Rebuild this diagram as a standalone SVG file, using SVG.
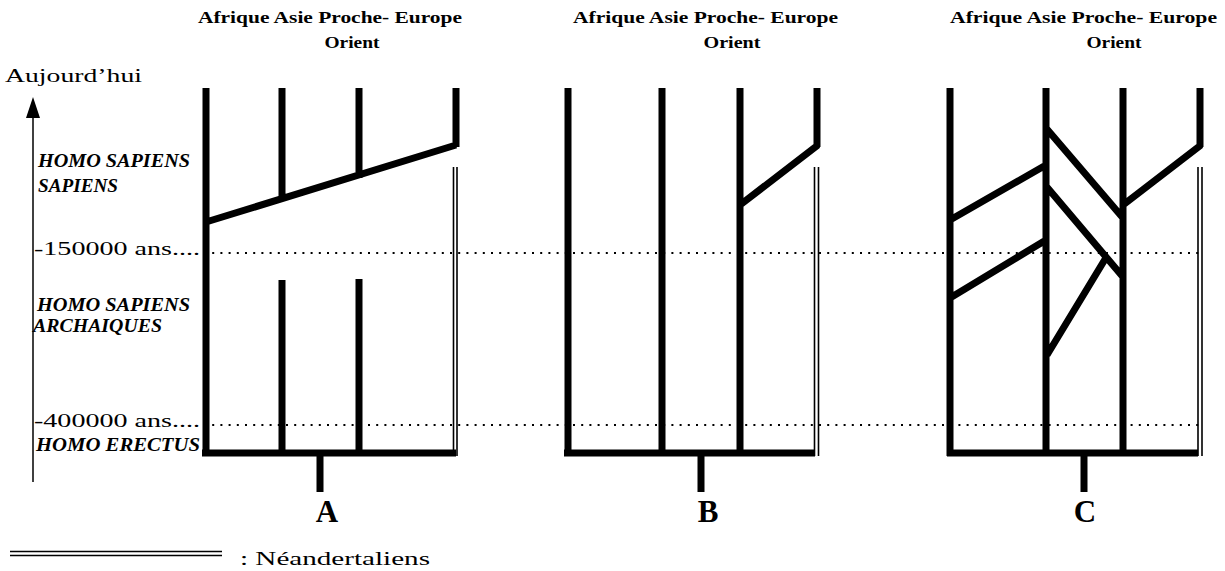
<svg xmlns="http://www.w3.org/2000/svg" width="1225" height="571" viewBox="0 0 1225 571">
<style>
  .thick{stroke:#000;stroke-width:7;fill:none;stroke-linecap:butt}
  .thin{stroke:#000;stroke-width:1.5;fill:none}
  .nea{stroke:#000;stroke-width:1.6;fill:none}
  .dot{stroke:#000;stroke-width:2;stroke-dasharray:2 6.2;fill:none}
  .hdr{font-family:"Liberation Serif","Times New Roman",serif;font-weight:bold;font-size:16px;fill:#000}
  .lab{font-family:"Liberation Serif","Times New Roman",serif;font-size:19px;fill:#000}
  .ital{font-family:"Liberation Serif","Times New Roman",serif;font-style:italic;font-weight:bold;font-size:18px;fill:#000}
  .big{font-family:"Liberation Serif","Times New Roman",serif;font-weight:bold;font-size:31px;fill:#000;text-anchor:middle}
</style>
<rect width="1225" height="571" fill="#fff"/>

<g id="axis">
  <line class="thin" x1="33" y1="112" x2="33" y2="482"/>
  <polygon points="33,97 26,118 40,118" fill="#000"/>
  <text class="lab" x="5" y="82" font-size="22" textLength="137" lengthAdjust="spacingAndGlyphs">Aujourd’hui</text>
  <text class="ital" x="38" y="167" textLength="152" lengthAdjust="spacingAndGlyphs">HOMO SAPIENS</text>
  <text class="ital" x="38" y="192" textLength="80" lengthAdjust="spacingAndGlyphs">SAPIENS</text>
  <text class="lab" x="34" y="255" textLength="166" lengthAdjust="spacingAndGlyphs">-150000 ans....</text>
  <text class="ital" x="37" y="311" textLength="153" lengthAdjust="spacingAndGlyphs">HOMO SAPIENS</text>
  <text class="ital" x="33" y="332" textLength="129" lengthAdjust="spacingAndGlyphs">ARCHAIQUES</text>
  <text class="lab" x="34" y="427" textLength="166" lengthAdjust="spacingAndGlyphs">-400000 ans....</text>
  <text class="ital" x="36" y="451" textLength="164" lengthAdjust="spacingAndGlyphs">HOMO ERECTUS</text>
</g>

<g id="time-lines">
  <line class="dot" x1="204" y1="253" x2="1200" y2="253"/>
  <line class="dot" x1="204" y1="425" x2="1200" y2="425"/>
</g>

<g id="panel-A">
  <text class="hdr" x="198" y="23" textLength="264" lengthAdjust="spacingAndGlyphs">Afrique Asie Proche- Europe</text>
  <text class="hdr" x="352" y="48" text-anchor="middle" textLength="55" lengthAdjust="spacingAndGlyphs">Orient</text>
  <path class="thick" d="M206 88V456 M282 88V200 M359 88V178 M456 88V147 M206 222L456 145 M282 280V453 M359 279V453 M202 453H456 M320 453V492"/>
  <path class="nea" d="M453.5 167V456 M457 167V456"/>
  <text class="big" x="327" y="522">A</text>
</g>

<g id="panel-B">
  <text class="hdr" x="573" y="23" textLength="265" lengthAdjust="spacingAndGlyphs">Afrique Asie Proche- Europe</text>
  <text class="hdr" x="732" y="48" text-anchor="middle" textLength="57" lengthAdjust="spacingAndGlyphs">Orient</text>
  <path class="thick" d="M568 88V456 M662 88V456 M740 88V456 M817 88V147 M818 145L740 205 M564 453H815 M701 453V492"/>
  <path class="nea" d="M814.5 167V456 M818.5 167V456"/>
  <text class="big" x="708" y="522">B</text>
</g>

<g id="panel-C">
  <text class="hdr" x="950" y="23" textLength="267" lengthAdjust="spacingAndGlyphs">Afrique Asie Proche- Europe</text>
  <text class="hdr" x="1114" y="48" text-anchor="middle" textLength="55" lengthAdjust="spacingAndGlyphs">Orient</text>
  <path class="thick" d="M950 88V456 M1046 88V456 M1123 88V456 M1200 88V147 M1201 145L1123 205 M1046 128L1123 218 M1046 186L1123 277 M1047 355L1107 256 M950 220L1046 165 M950 298L1046 240 M947 453H1198 M1084 453V492"/>
  <path class="nea" d="M1198 167V456 M1202 167V456"/>
  <text class="big" x="1085" y="522">C</text>
</g>

<g id="legend">
  <path class="nea" d="M10 551.5H222 M10 555.5H222"/>
  <text class="lab" x="240" y="565" font-size="22" textLength="190" lengthAdjust="spacingAndGlyphs">: Néandertaliens</text>
</g>
</svg>
